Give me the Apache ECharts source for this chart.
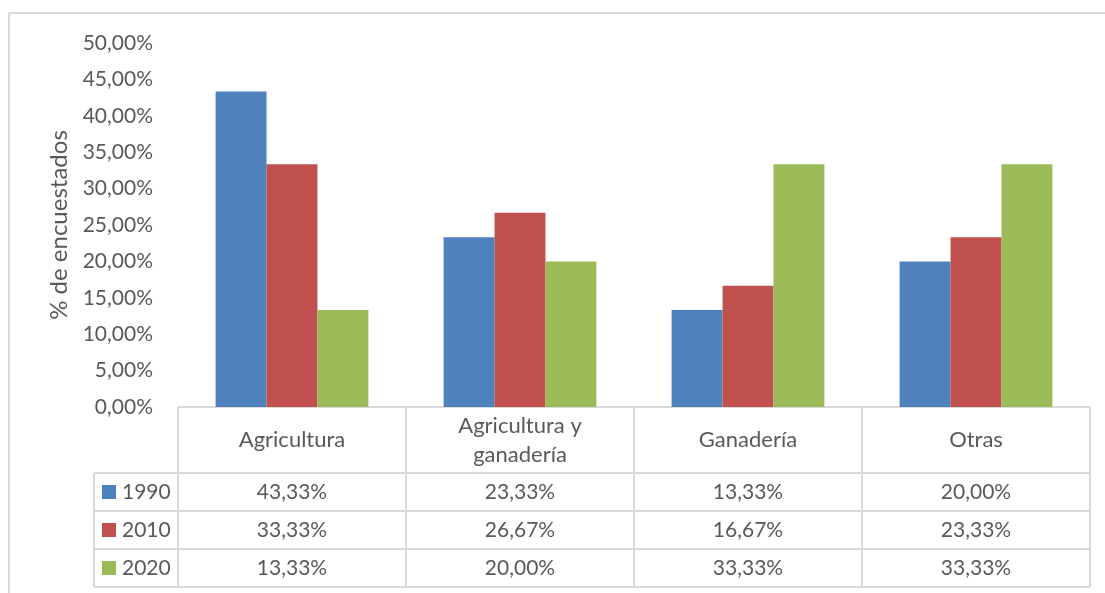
<!DOCTYPE html>
<html>
<head>
<meta charset="utf-8">
<script src="https://cdn.jsdelivr.net/npm/echarts@6/dist/echarts.min.js"></script>
<style>
  html, body { margin: 0; padding: 0; background: #fff; }
  #main { width: 1105px; height: 593px; }
</style>
</head>
<body>
<div id="main"></div>
<script>
// datos del grafico
var categories = ['Agricultura', 'Agricultura y\nganadería', 'Ganadería', 'Otras'];
var years = ['1990', '2010', '2020'];
var v1990 = [43.33, 23.33, 13.33, 20.00];
var v2010 = [33.33, 26.67, 16.67, 23.33];
var v2020 = [13.33, 20.00, 33.33, 33.33];
var yTicks = [0, 5, 10, 15, 20, 25, 30, 35, 40, 45, 50];

var colors = ['#4f81bd', '#c0504d', '#9bbb59'];
var seriesValues = [v1990, v2010, v2020];
var font = 'Lato, "Noto Sans", sans-serif';
var textColor = '#595959';
var lineColor = '#d9d9d9';

// posicion del area de grafico (pixeles)
var plotLeft = 178, plotRight = 1090, plotTop = 43, plotBottom = 407;
var headerH = 66, rowH = 38, legendColLeft = 94;
var tableFont = '21px ' + font;

function fmt(v) {
  return v.toFixed(2).replace('.', ',') + '%';
}

var chart = echarts.init(document.getElementById('main'));

// tabla de datos dibujada con graphic
var graphic = [];
// marco exterior
graphic.push({
  type: 'rect', shape: { x: 9, y: 13, width: 1200, height: 700 },
  style: { fill: 'none', stroke: lineColor, lineWidth: 2 }, silent: true
});
var n = categories.length;
var colW = (plotRight - plotLeft) / n;
var tableBottom = plotBottom + headerH + rowH * years.length;
// lineas horizontales
graphic.push({ type: 'line', shape: { x1: plotLeft, y1: plotBottom, x2: plotRight, y2: plotBottom },
  style: { stroke: lineColor, lineWidth: 2 } });
for (var r = 0; r <= years.length; r++) {
  var y = plotBottom + headerH + rowH * r;
  graphic.push({ type: 'line', shape: { x1: legendColLeft, y1: y, x2: plotRight, y2: y },
    style: { stroke: lineColor, lineWidth: 2 } });
}
// lineas verticales
graphic.push({ type: 'line', shape: { x1: legendColLeft, y1: plotBottom + headerH, x2: legendColLeft, y2: tableBottom },
  style: { stroke: lineColor, lineWidth: 2 } });
for (var c = 0; c <= n; c++) {
  var x = plotLeft + colW * c;
  graphic.push({ type: 'line', shape: { x1: x, y1: plotBottom, x2: x, y2: tableBottom },
    style: { stroke: lineColor, lineWidth: 2 } });
}
// encabezados de categoria
for (var c = 0; c < n; c++) {
  graphic.push({
    type: 'text', x: plotLeft + colW * (c + 0.5), y: plotBottom + headerH / 2,
    style: { text: categories[c], font: '22px ' + font, fill: textColor,
      align: 'center', verticalAlign: 'middle', lineHeight: 29 }
  });
}
// filas de valores + leyenda
for (var r = 0; r < years.length; r++) {
  var cy = plotBottom + headerH + rowH * (r + 0.5);
  graphic.push({ type: 'rect', shape: { x: 102, y: cy - 7, width: 14, height: 14 },
    style: { fill: colors[r] } });
  graphic.push({ type: 'text', x: 122, y: cy,
    style: { text: years[r], font: tableFont, fill: textColor, align: 'left', verticalAlign: 'middle' } });
  for (var c = 0; c < n; c++) {
    graphic.push({
      type: 'text', x: plotLeft + colW * (c + 0.5), y: cy,
      style: { text: fmt(seriesValues[r][c]), font: tableFont, fill: textColor,
        align: 'center', verticalAlign: 'middle' }
    });
  }
}

var series = [];
for (var i = 0; i < years.length; i++) {
  series.push({
    name: years[i],
    type: 'bar',
    data: seriesValues[i],
    itemStyle: { color: colors[i] },
    barGap: '0%',
    barCategoryGap: '33%',
    silent: true
  });
}

var option = {
  animation: false,
  backgroundColor: '#fff',
  grid: {
    left: plotLeft, right: 1105 - plotRight, top: plotTop, bottom: 593 - plotBottom,
    containLabel: false
  },
  xAxis: {
    type: 'category',
    data: categories,
    axisLine: { show: false },
    axisTick: { show: false },
    axisLabel: { show: false }
  },
  yAxis: {
    type: 'value',
    min: yTicks[0],
    max: yTicks[yTicks.length - 1],
    interval: 5,
    name: '% de encuestados',
    nameLocation: 'middle',
    nameGap: 107,
    nameTextStyle: { fontFamily: font, fontSize: 24, color: textColor },
    axisLine: { show: false },
    axisTick: { show: false },
    splitLine: { show: false },
    axisLabel: {
      formatter: fmt,
      fontFamily: font, fontSize: 21, color: textColor, margin: 25
    }
  },
  graphic: graphic,
  series: series
};

chart.setOption(option);
</script>
</body>
</html>
